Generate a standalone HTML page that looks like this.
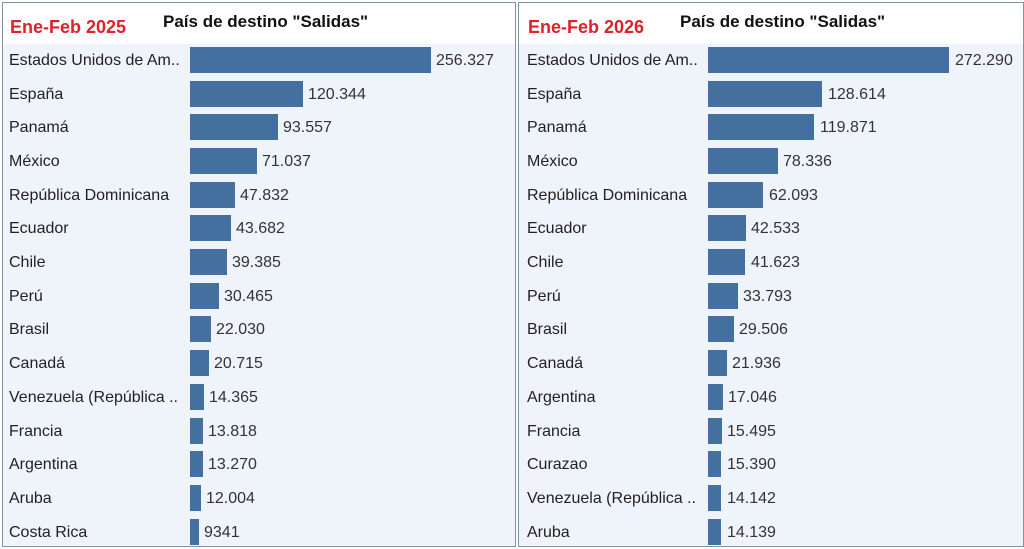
<!DOCTYPE html>
<html><head><meta charset="utf-8"><style>
body{margin:0;width:1024px;height:549px;background:#fff;position:relative;overflow:hidden;font-family:"Liberation Sans",Arial,sans-serif}
.p{position:absolute;top:2px;height:543px;border:1px solid #7f95a0;background:#eff3fa}
.hd{position:absolute;left:0;right:0;top:0;height:41px;background:#fff}
.yr{position:absolute;top:14px;color:#e0202a;font-weight:bold;font-size:18px}
.tt{position:absolute;top:9px;font-weight:bold;font-size:17px;color:#111}
.r{position:absolute;height:26px;line-height:28px;font-size:16px;color:#222}
.l{position:absolute;white-space:nowrap}
.b{position:absolute;top:0;height:26px;background:#4470a0}
.v{position:absolute;white-space:nowrap;color:#333}
</style></head><body>
<div class="p" style="left:2px;width:512px">
<div class="hd"></div>
<div class="yr" style="left:7px">Ene-Feb 2025</div>
<div class="tt" style="left:160px">País de destino "Salidas"</div>
</div>
<div class="p" style="left:518px;width:504px">
<div class="hd"></div>
<div class="yr" style="left:9px">Ene-Feb 2026</div>
<div class="tt" style="left:161px">País de destino "Salidas"</div>
</div>

<div style="position:absolute;left:0;top:0">
<div class="r" style="top:47px"><span class="l" style="left:9px">Estados Unidos de Am..</span><span class="b" style="left:190px;width:241px"></span><span class="v" style="left:436px">256.327</span></div>
<div class="r" style="top:81px"><span class="l" style="left:9px">España</span><span class="b" style="left:190px;width:113px"></span><span class="v" style="left:308px">120.344</span></div>
<div class="r" style="top:114px"><span class="l" style="left:9px">Panamá</span><span class="b" style="left:190px;width:88px"></span><span class="v" style="left:283px">93.557</span></div>
<div class="r" style="top:148px"><span class="l" style="left:9px">México</span><span class="b" style="left:190px;width:67px"></span><span class="v" style="left:262px">71.037</span></div>
<div class="r" style="top:182px"><span class="l" style="left:9px">República Dominicana</span><span class="b" style="left:190px;width:45px"></span><span class="v" style="left:240px">47.832</span></div>
<div class="r" style="top:215px"><span class="l" style="left:9px">Ecuador</span><span class="b" style="left:190px;width:41px"></span><span class="v" style="left:236px">43.682</span></div>
<div class="r" style="top:249px"><span class="l" style="left:9px">Chile</span><span class="b" style="left:190px;width:37px"></span><span class="v" style="left:232px">39.385</span></div>
<div class="r" style="top:283px"><span class="l" style="left:9px">Perú</span><span class="b" style="left:190px;width:29px"></span><span class="v" style="left:224px">30.465</span></div>
<div class="r" style="top:316px"><span class="l" style="left:9px">Brasil</span><span class="b" style="left:190px;width:21px"></span><span class="v" style="left:216px">22.030</span></div>
<div class="r" style="top:350px"><span class="l" style="left:9px">Canadá</span><span class="b" style="left:190px;width:19px"></span><span class="v" style="left:214px">20.715</span></div>
<div class="r" style="top:384px"><span class="l" style="left:9px">Venezuela (República ..</span><span class="b" style="left:190px;width:14px"></span><span class="v" style="left:209px">14.365</span></div>
<div class="r" style="top:418px"><span class="l" style="left:9px">Francia</span><span class="b" style="left:190px;width:13px"></span><span class="v" style="left:208px">13.818</span></div>
<div class="r" style="top:451px"><span class="l" style="left:9px">Argentina</span><span class="b" style="left:190px;width:13px"></span><span class="v" style="left:208px">13.270</span></div>
<div class="r" style="top:485px"><span class="l" style="left:9px">Aruba</span><span class="b" style="left:190px;width:11px"></span><span class="v" style="left:206px">12.004</span></div>
<div class="r" style="top:519px"><span class="l" style="left:9px">Costa Rica</span><span class="b" style="left:190px;width:9px"></span><span class="v" style="left:204px">9341</span></div>

<div class="r" style="top:47px"><span class="l" style="left:527px">Estados Unidos de Am..</span><span class="b" style="left:708px;width:241px"></span><span class="v" style="left:955px">272.290</span></div>
<div class="r" style="top:81px"><span class="l" style="left:527px">España</span><span class="b" style="left:708px;width:114px"></span><span class="v" style="left:828px">128.614</span></div>
<div class="r" style="top:114px"><span class="l" style="left:527px">Panamá</span><span class="b" style="left:708px;width:106px"></span><span class="v" style="left:820px">119.871</span></div>
<div class="r" style="top:148px"><span class="l" style="left:527px">México</span><span class="b" style="left:708px;width:70px"></span><span class="v" style="left:783px">78.336</span></div>
<div class="r" style="top:182px"><span class="l" style="left:527px">República Dominicana</span><span class="b" style="left:708px;width:55px"></span><span class="v" style="left:769px">62.093</span></div>
<div class="r" style="top:215px"><span class="l" style="left:527px">Ecuador</span><span class="b" style="left:708px;width:38px"></span><span class="v" style="left:751px">42.533</span></div>
<div class="r" style="top:249px"><span class="l" style="left:527px">Chile</span><span class="b" style="left:708px;width:37px"></span><span class="v" style="left:751px">41.623</span></div>
<div class="r" style="top:283px"><span class="l" style="left:527px">Perú</span><span class="b" style="left:708px;width:30px"></span><span class="v" style="left:743px">33.793</span></div>
<div class="r" style="top:316px"><span class="l" style="left:527px">Brasil</span><span class="b" style="left:708px;width:26px"></span><span class="v" style="left:739px">29.506</span></div>
<div class="r" style="top:350px"><span class="l" style="left:527px">Canadá</span><span class="b" style="left:708px;width:19px"></span><span class="v" style="left:732px">21.936</span></div>
<div class="r" style="top:384px"><span class="l" style="left:527px">Argentina</span><span class="b" style="left:708px;width:15px"></span><span class="v" style="left:728px">17.046</span></div>
<div class="r" style="top:418px"><span class="l" style="left:527px">Francia</span><span class="b" style="left:708px;width:14px"></span><span class="v" style="left:727px">15.495</span></div>
<div class="r" style="top:451px"><span class="l" style="left:527px">Curazao</span><span class="b" style="left:708px;width:13px"></span><span class="v" style="left:727px">15.390</span></div>
<div class="r" style="top:485px"><span class="l" style="left:527px">Venezuela (República ..</span><span class="b" style="left:708px;width:13px"></span><span class="v" style="left:727px">14.142</span></div>
<div class="r" style="top:519px"><span class="l" style="left:527px">Aruba</span><span class="b" style="left:708px;width:13px"></span><span class="v" style="left:727px">14.139</span></div>
</div>
</body></html>
